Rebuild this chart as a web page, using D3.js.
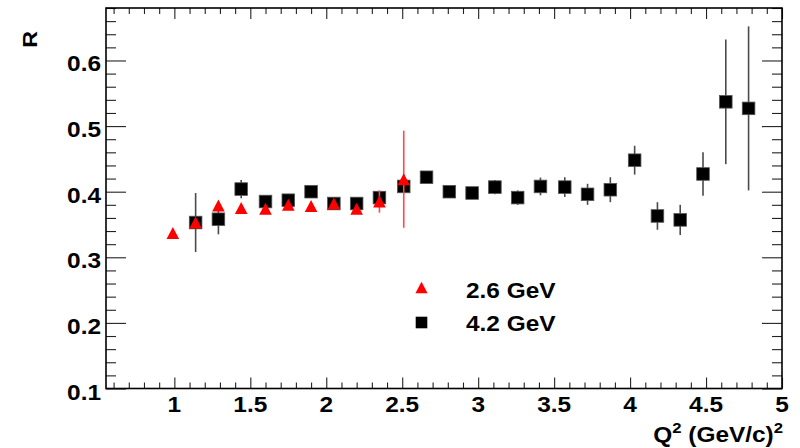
<!DOCTYPE html>
<html>
<head>
<meta charset="utf-8">
<script src="https://cdn.jsdelivr.net/npm/d3@7"></script>
<style>
  html, body { margin: 0; padding: 0; background: #fff; }
  svg { display: block; }
  text { font-family: "Liberation Sans", Arial, Helvetica, sans-serif; font-weight: bold; fill: #000; }
</style>
</head>
<body>
<svg id="chart" width="800" height="448"></svg>
<script>
// R versus Q^2 for two beam energies
const q2_26  = [0.99, 1.14, 1.29, 1.44, 1.60, 1.75, 1.90, 2.05, 2.20, 2.35, 2.51];
const R_26   = [0.337, 0.353, 0.379, 0.375, 0.374, 0.380, 0.378, 0.382, 0.374, 0.385, 0.419];
const err_26 = [0.004, 0.004, 0.005, 0.005, 0.005, 0.005, 0.005, 0.005, 0.006, 0.017, 0.074];

const q2_42  = [1.14, 1.29, 1.44, 1.60, 1.75, 1.90, 2.05, 2.20, 2.35, 2.51, 2.66, 2.81, 2.96,
                3.11, 3.26, 3.41, 3.57, 3.72, 3.87, 4.03, 4.18, 4.33, 4.48, 4.63, 4.78];
const R_42   = [0.353, 0.358, 0.404, 0.385, 0.387, 0.400, 0.382, 0.382, 0.391, 0.408, 0.422, 0.400, 0.398,
                0.407, 0.391, 0.408, 0.407, 0.396, 0.403, 0.448, 0.363, 0.357, 0.427, 0.537, 0.527];
const err_42 = [0.045, 0.023, 0.014, 0.006, 0.006, 0.007, 0.006, 0.006, 0.008, 0.010, 0.008, 0.007, 0.007,
                0.011, 0.011, 0.0135, 0.015, 0.016, 0.019, 0.022, 0.021, 0.023, 0.033, 0.095, 0.125];

const seriesNames = ["2.6 GeV", "4.2 GeV"];
const xTicks = [1, 1.5, 2, 2.5, 3, 3.5, 4, 4.5, 5];
const xTickLabels = ["1", "1.5", "2", "2.5", "3", "3.5", "4", "4.5", "5"];
const yTicks = [0.1, 0.2, 0.3, 0.4, 0.5, 0.6];
const yTickLabels = ["0.1", "0.2", "0.3", "0.4", "0.5", "0.6"];

const svg = d3.select("#chart");
const fL = 106, fR = 782, fT = 8, fB = 388.5;
const x = d3.scaleLinear().domain([0.55, 5.0]).range([fL, fR]);
const y = d3.scaleLinear().domain([0.1, 0.68]).range([fB, fT]);
const SX = 1.11; // glyph widening for the wide Helvetica look

function label(g, px, py, str, anchor, size) {
  return g.append("text")
    .attr("transform", `translate(${px},${py}) scale(${SX},1)`)
    .attr("text-anchor", anchor)
    .style("font-size", size + "px")
    .text(str);
}

// ticks, inside on all four sides
const xMinor = d3.range(0.6, 5.0001, 0.1).filter(v => !xTicks.some(t => Math.abs(t - v) < 1e-6));
const yMinor = d3.range(0.12, 0.6801, 0.02).filter(v => !yTicks.some(t => Math.abs(t - v) < 1e-6));

function tickAxis(axisFn, scale, values, size, transform) {
  const g = svg.append("g").attr("transform", transform)
    .call(axisFn(scale).tickValues(values).tickSize(size).tickFormat(""));
  g.select(".domain").remove();
  g.selectAll(".tick line").attr("stroke", "#222").attr("stroke-width", 1.1);
}
tickAxis(d3.axisBottom, x, xTicks, -11, `translate(0,${fB})`);
tickAxis(d3.axisBottom, x, xMinor, -6, `translate(0,${fB})`);
tickAxis(d3.axisTop, x, xTicks, -11, `translate(0,${fT})`);
tickAxis(d3.axisTop, x, xMinor, -6, `translate(0,${fT})`);
tickAxis(d3.axisLeft, y, yTicks, -20, `translate(${fL},0)`);
tickAxis(d3.axisLeft, y, yMinor, -10, `translate(${fL},0)`);
tickAxis(d3.axisRight, y, yTicks, -20, `translate(${fR},0)`);
tickAxis(d3.axisRight, y, yMinor, -10, `translate(${fR},0)`);

// frame
svg.append("rect")
  .attr("x", fL).attr("y", fT)
  .attr("width", fR - fL).attr("height", fB - fT)
  .attr("fill", "none").attr("stroke", "#000").attr("stroke-width", 1.6);

// tick labels
const labels = svg.append("g");
xTicks.forEach((t, i) => label(labels, x(t), 411.5, xTickLabels[i], "middle", 22));
yTicks.forEach((t, i) => label(labels, 101, y(t) + 11, yTickLabels[i], "end", 22));

// axis titles
const xt = svg.append("text")
  .attr("transform", `translate(783,442) scale(${SX},1)`)
  .attr("text-anchor", "end")
  .style("font-size", "22px");
xt.append("tspan").text("Q");
xt.append("tspan").attr("dy", -9).style("font-size", "15px").text("2");
xt.append("tspan").attr("dy", 9).text(" (GeV/c)");
xt.append("tspan").attr("dy", -9).style("font-size", "15px").text("2");

svg.append("text")
  .attr("transform", `translate(37,31) rotate(-90) scale(${SX},1)`)
  .attr("text-anchor", "end")
  .style("font-size", "21px")
  .text("R");

// markers
const tri = (cx, cy, s) => `M${cx},${cy - s}L${cx + s * 1.05},${cy + s}L${cx - s * 1.05},${cy + s}Z`;
const sq = 12.6;

const data42 = q2_42.map((q, i) => ({ q, r: R_42[i], e: err_42[i] }));
const data26 = q2_26.map((q, i) => ({ q, r: R_26[i], e: err_26[i] }));

const g42 = svg.append("g");
g42.selectAll("line").data(data42).join("line")
  .attr("x1", d => x(d.q)).attr("x2", d => x(d.q))
  .attr("y1", d => y(d.r + d.e)).attr("y2", d => y(d.r - d.e))
  .attr("stroke", "#4a4a4a").attr("stroke-width", 1.6);
g42.selectAll("rect").data(data42).join("rect")
  .attr("x", d => x(d.q) - sq / 2).attr("y", d => y(d.r) - sq / 2)
  .attr("width", sq).attr("height", sq)
  .attr("fill", "#000").attr("stroke", "#555").attr("stroke-width", 0.8);

const g26 = svg.append("g");
g26.selectAll("line").data(data26).join("line")
  .attr("x1", d => x(d.q)).attr("x2", d => x(d.q))
  .attr("y1", d => y(d.r + d.e)).attr("y2", d => y(d.r - d.e))
  .attr("stroke", "#ff4a4a").attr("stroke-width", 1.6);
g26.selectAll("path").data(data26).join("path")
  .attr("d", d => tri(x(d.q), y(d.r), 6))
  .attr("fill", "#ff0000");

// legend
const lg = svg.append("g");
lg.append("path").attr("d", tri(421.5, 287.5, 5.8)).attr("fill", "#ff0000");
label(lg, 466, 298, seriesNames[0], "start", 22);
lg.append("rect").attr("x", 421.5 - 5.8).attr("y", 322.5 - 5.8)
  .attr("width", 11.6).attr("height", 11.6).attr("fill", "#000");
label(lg, 466, 331, seriesNames[1], "start", 22);
</script>
</body>
</html>
